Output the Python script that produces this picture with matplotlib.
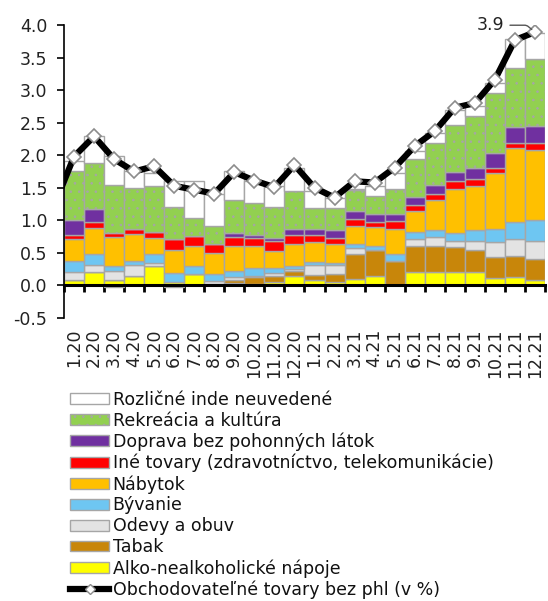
import matplotlib
matplotlib.use("Agg")
import matplotlib.pyplot as plt
import numpy as np
from matplotlib.patches import Patch
from matplotlib.lines import Line2D

# Mesiace (os x)
months = ["1.20", "2.20", "3.20", "4.20", "5.20", "6.20", "7.20", "8.20", "9.20",
          "10.20", "11.20", "12.20", "1.21", "2.21", "3.21", "4.21", "5.21", "6.21",
          "7.21", "8.21", "9.21", "10.21", "11.21", "12.21"]

# Prispevky zloziek (p.b.), odspodu nahor
alko = [0.08, 0.20, 0.08, 0.14, 0.30, 0.05, 0.17, 0.02, 0.03, 0.02, 0.05, 0.14,
        0.08, 0.06, 0.10, 0.15, 0.00, 0.20, 0.20, 0.20, 0.20, 0.12, 0.13, 0.09]
tabak = [0.00, 0.00, 0.00, 0.00, 0.00, 0.00, 0.00, 0.00, 0.05, 0.11, 0.09, 0.08,
         0.08, 0.11, 0.38, 0.40, 0.37, 0.40, 0.41, 0.39, 0.34, 0.32, 0.32, 0.31]
odevy = [0.13, 0.12, 0.14, 0.17, 0.05, -0.03, 0.00, 0.05, 0.05, 0.02, 0.05, 0.04,
         0.15, 0.15, 0.10, 0.00, 0.00, 0.12, 0.14, 0.09, 0.14, 0.22, 0.26, 0.28]
byvanie = [0.16, 0.16, 0.08, 0.07, 0.13, 0.14, 0.13, 0.11, 0.09, 0.12, 0.08, 0.04,
           0.05, 0.03, 0.06, 0.06, 0.11, 0.10, 0.10, 0.12, 0.17, 0.21, 0.26, 0.32]
nabytok = [0.34, 0.40, 0.45, 0.41, 0.25, 0.36, 0.31, 0.32, 0.39, 0.33, 0.26, 0.33,
           0.30, 0.28, 0.27, 0.28, 0.39, 0.33, 0.46, 0.68, 0.68, 0.85, 1.14, 1.08]
ine = [0.06, 0.09, 0.06, 0.08, 0.09, 0.16, 0.15, 0.13, 0.14, 0.13, 0.15, 0.14,
       0.11, 0.10, 0.11, 0.08, 0.12, 0.09, 0.10, 0.12, 0.10, 0.08, 0.08, 0.11]
doprava = [0.24, 0.21, -0.03, 0.00, 0.00, 0.00, 0.00, 0.00, 0.06, 0.05, 0.05, 0.10,
           0.10, 0.12, 0.12, 0.12, 0.10, 0.12, 0.14, 0.14, 0.17, 0.24, 0.24, 0.26]
rekreacia = [0.74, 0.70, 0.73, 0.63, 0.71, 0.50, 0.28, 0.29, 0.50, 0.48, 0.48, 0.58,
             0.32, 0.34, 0.32, 0.28, 0.39, 0.58, 0.63, 0.73, 0.81, 0.92, 0.91, 1.03]
rozlicne = [0.16, 0.41, 0.45, 0.25, 0.20, 0.40, 0.56, 0.48, 0.44, 0.34, 0.31, 0.35,
            0.26, 0.16, 0.02, 0.16, 0.24, 0.12, 0.16, 0.23, 0.15, 0.15, 0.44, 0.40]

# Obchodovatelne tovary bez phl (v %); prva hodnota je 12.19 (mimo osi)
prev_month = "12.19"
prev_total = 1.22
total = [1.98, 2.29, 1.94, 1.75, 1.83, 1.53, 1.47, 1.41, 1.74, 1.61, 1.51, 1.85,
         1.50, 1.35, 1.60, 1.58, 1.81, 2.14, 2.37, 2.73, 2.80, 3.16, 3.77, 3.89]

series = [
    ("Alko-nealkoholické nápoje", alko, "#FFFF00", None),
    ("Tabak", tabak, "#C8860A", None),
    ("Odevy a obuv", odevy, "#E3E3E3", None),
    ("Bývanie", byvanie, "#6EC6F2", None),
    ("Nábytok", nabytok, "#FFC000", None),
    ("Iné tovary (zdravotníctvo, telekomunikácie)", ine, "#FF0000", None),
    ("Doprava bez pohonných látok", doprava, "#7030A0", None),
    ("Rekreácia a kultúra", rekreacia, "#92D050", ".."),
    ("Rozličné inde neuvedené", rozlicne, "#FFFFFF", None),
]

plt.rcParams["font.family"] = ["DejaVu Sans"]
plt.rcParams["hatch.linewidth"] = 0.6
EDGE = "#A6A6A6"
FS = 12.5

fig = plt.figure(figsize=(5.48, 6.01), dpi=100)
ax = fig.add_axes([0.1168, 0.4709, 0.8777, 0.4875])

x = np.arange(len(months))
pos_bottom = np.zeros(len(months))
neg_bottom = np.zeros(len(months))
for name, vals, color, hatch in series:
    v = np.array(vals)
    bottom = np.where(v >= 0, pos_bottom, neg_bottom)
    ax.bar(x, v, width=1.0, bottom=bottom, color=color, edgecolor=EDGE,
           linewidth=1.0, hatch=hatch, zorder=2)
    pos_bottom += np.where(v >= 0, v, 0)
    neg_bottom += np.where(v < 0, v, 0)

# ciara s predchadzajucim bodom (orezany na lavom okraji)
line_x = np.concatenate([[-1], x])
line_y = [prev_total] + total
ax.plot(line_x, line_y, color="black", linewidth=4.5, marker="D", markersize=7.5,
        markerfacecolor="white", markeredgecolor="#8C8C8C", markeredgewidth=1.2,
        zorder=4, clip_on=True)

ax.annotate(f"{total[-1]:.1f}", xy=(x[-1], total[-1]), xytext=(-22, 5),
            textcoords="offset points", ha="right", va="center", fontsize=FS,
            color="#222222",
            arrowprops=dict(arrowstyle="-", color="#555555", lw=1.0,
                            shrinkA=2, shrinkB=3,
                            connectionstyle="angle,angleA=0,angleB=140,rad=2"),
            annotation_clip=False, zorder=5)

ax.set_xlim(-0.5, len(months) - 0.5)
ax.set_ylim(-0.5, 4.0)
ax.set_yticks(np.arange(-0.5, 4.01, 0.5))
ax.set_yticklabels([f"{t:.1f}" for t in np.arange(-0.5, 4.01, 0.5)])

for s in ("top", "right"):
    ax.spines[s].set_visible(False)
ax.spines["left"].set_linewidth(1.2)
ax.spines["bottom"].set_position(("data", 0))
ax.spines["bottom"].set_linewidth(2.2)
ax.spines["bottom"].set_zorder(6)

ax.set_xticks(np.arange(-0.5, len(months), 1.0))
ax.set_xticklabels([])
ax.set_xticks(x, minor=True)
ax.set_xticklabels(months, minor=True, rotation=90)
ax.tick_params(axis="x", which="major", direction="out", length=5, width=2)
ax.tick_params(axis="x", which="minor", length=0, pad=31, labelsize=FS,
               labelcolor="#222222")
ax.tick_params(axis="y", direction="out", length=5, width=1.2, pad=7,
               labelsize=FS, labelcolor="#222222")

# legenda
handles = []
for name, vals, color, hatch in reversed(series):
    handles.append(Patch(facecolor=color, edgecolor=EDGE, hatch=hatch, linewidth=1.0,
                         label=name))
handles.append(Line2D([0], [0], color="black", linewidth=4.5, marker="D",
                      markersize=5, markerfacecolor="white",
                      markeredgecolor="#8C8C8C",
                      label="Obchodovateľné tovary bez phl (v %)"))
fig.legend(handles=handles, loc="upper left", bbox_to_anchor=(0.128, 0.350),
           frameon=False, fontsize=FS, handlelength=2.25, handleheight=0.58,
           handletextpad=0.2, labelspacing=0.165, borderaxespad=0, borderpad=0,
           labelcolor="#111111")

fig.savefig("out.png", dpi=100)
